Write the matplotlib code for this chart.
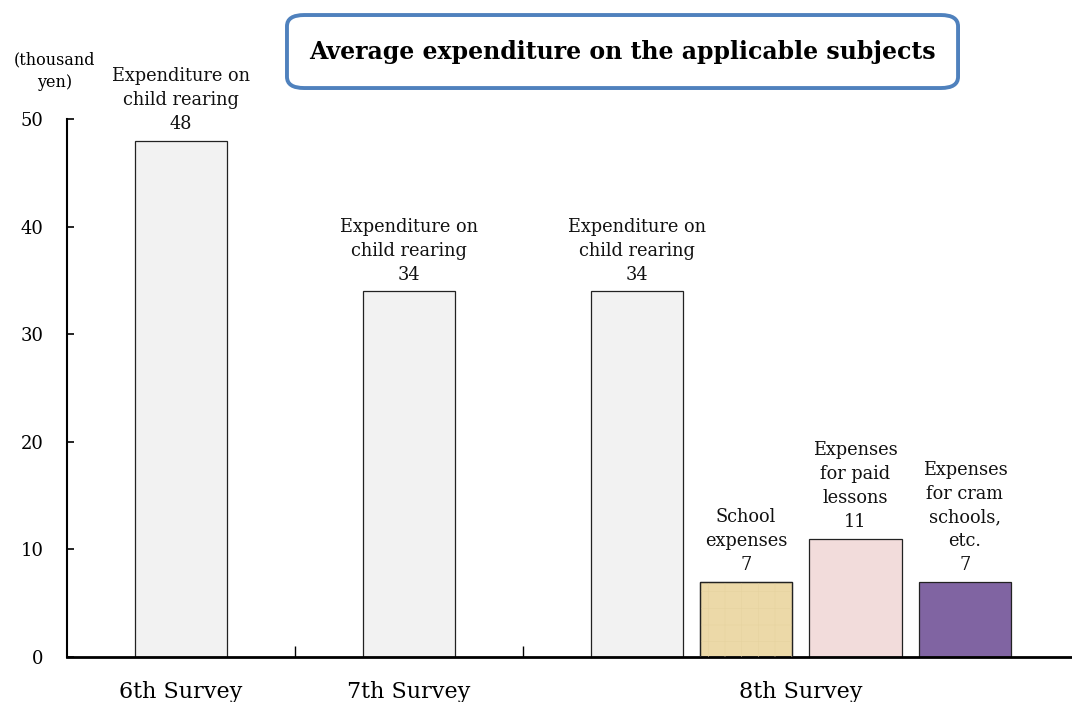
import matplotlib.pyplot as plt
from matplotlib.patches import FancyBboxPatch

plt.rcParams['font.family'] = ['DejaVu Serif']
plt.rcParams['hatch.linewidth'] = 0.4

# data
surveys = ['6th Survey', '7th Survey', '8th Survey']
bar_labels = ['Expenditure on\nchild rearing', 'Expenditure on\nchild rearing',
              'Expenditure on\nchild rearing', 'School\nexpenses',
              'Expenses\nfor paid\nlessons', 'Expenses\nfor cram\nschools,\netc.']
values = [48, 34, 34, 7, 11, 7]
positions = [0, 1, 2, 2.48, 2.96, 3.44]
colors = ['#f2f2f2', '#f2f2f2', '#f2f2f2', '#ecd9a8', '#f2dcdb', '#8064a2']
survey_pos = [0, 1, 2.72]

fig = plt.figure(figsize=(10.72, 7.02), dpi=100)
ax = fig.add_axes([0.0625, 0.0641, 0.9375, 0.7664])

bars = ax.bar(positions, values, width=0.405, color=colors,
              edgecolor='#222222', linewidth=0.9, zorder=2)
# faint paper texture on school expenses bar
ax.bar(positions[3], values[3], width=0.405, color='none', edgecolor='#e6d3a0',
       hatch='+', linewidth=0, zorder=3)
ax.bar(positions[3], values[3], width=0.405, color='none', edgecolor='#222222',
       linewidth=0.9, zorder=4)

for x, v, lab in zip(positions, values, bar_labels):
    ax.text(x, v + 0.7, lab + '\n' + str(v), ha='center', va='bottom',
            fontsize=12.8, linespacing=1.42, color='#111111')

ax.set_ylim(0, 50)
ax.set_xlim(-0.5, 3.91)
ax.set_yticks([0, 10, 20, 30, 40, 50])
ax.tick_params(axis='y', direction='in', length=5, width=1.2, labelsize=13, pad=17)
ax.set_xticks([0.5, 1.5])
ax.set_xticklabels([])
ax.tick_params(axis='x', direction='in', length=8, width=1)
for x, s in zip(survey_pos, surveys):
    ax.text(x, -2.2, s, ha='center', va='top', fontsize=16)

ax.spines['top'].set_visible(False)
ax.spines['right'].set_visible(False)
ax.spines['left'].set_linewidth(1.5)
ax.spines['bottom'].set_linewidth(2)

fig.text(0.051, 0.899, '(thousand\nyen)', ha='center', va='center',
         fontsize=11.5, linespacing=1.4)

box = FancyBboxPatch((0.2677, 0.8746), 0.626, 0.104,
                     boxstyle='round,pad=0,rounding_size=0.016',
                     transform=fig.transFigure, facecolor='white',
                     edgecolor='#4f81bd', linewidth=2.8)
fig.patches.append(box)
fig.text(0.581, 0.926, 'Average expenditure on the applicable subjects',
         ha='center', va='center', fontsize=17, fontweight='bold')

fig.savefig('out.png', dpi=100)
